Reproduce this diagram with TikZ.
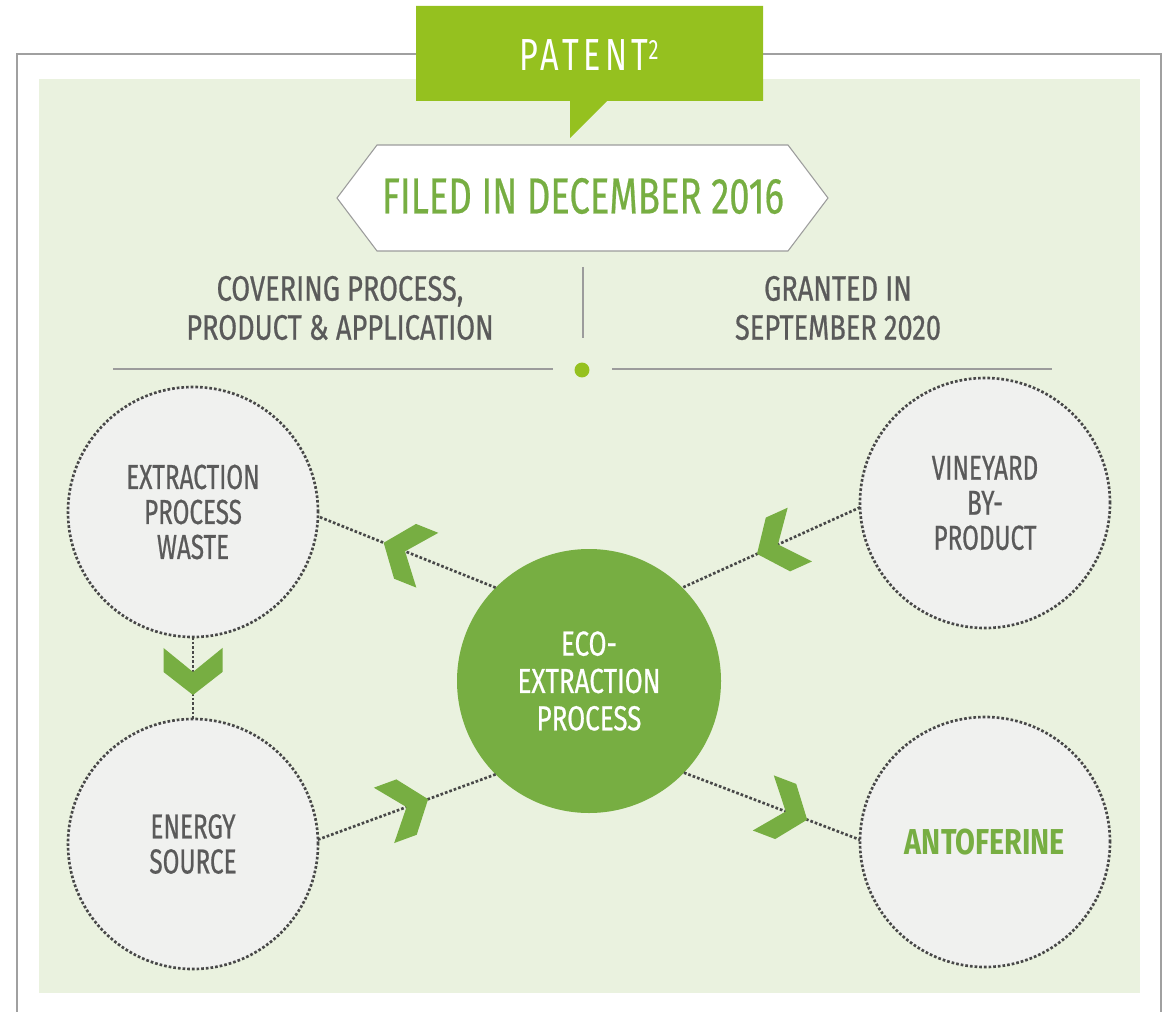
\documentclass[tikz,border=0pt]{standalone}
\usepackage{fontspec}
\setmainfont{Fira Sans}
\newfontfamily\osw[FakeStretch=0.72]{Fira Sans}
\newfontfamily\oswc[FakeStretch=0.70,FakeBold=0.6]{Fira Sans}
\newfontfamily\oswk[FakeStretch=0.75,FakeBold=0.6]{Fira Sans}
\newfontfamily\oswh[FakeStretch=0.77,FakeBold=0.6]{Fira Sans}
\newfontfamily\oswf[FakeStretch=0.72,FakeBold=0.4]{Fira Sans}
\newfontfamily\oswb[FakeStretch=0.80]{Fira Sans}
\usetikzlibrary{decorations.markings}
\definecolor{bggreen}{HTML}{EAF2DF}
\definecolor{lime}{HTML}{95C11F}
\definecolor{leaf}{HTML}{77AE42}
\definecolor{txtgray}{HTML}{5A5A5A}
\definecolor{framegray}{HTML}{A0A0A0}
\definecolor{linegray}{HTML}{9C9C9C}
\definecolor{circfill}{HTML}{F0F1EF}
\definecolor{dotgray}{HTML}{484848}
\begin{document}
\begin{tikzpicture}[x=0.75pt,y=-0.75pt,
  dotline/.style={draw=dotgray, line width=2pt, dash pattern=on 2pt off 1.5pt},
  bubble/.style={circle, dotline, fill=circfill, minimum size=187.5pt, inner sep=0pt, outer sep=0pt,
    align=center, text=txtgray, font=\oswc\fontsize{26pt}{26.25pt}\selectfont},
  core/.style={circle, fill=leaf, minimum size=198pt, inner sep=0pt, outer sep=0pt,
    align=center, text=white, font=\oswk\fontsize{26pt}{28pt}\selectfont},
  headtext/.style={align=center, text=txtgray, font=\oswh\fontsize{26.5pt}{29.25pt}\selectfont},
  chev/.style={postaction={decorate, decoration={markings, mark=at position #1 with {
    \fill[leaf] (0,0) -- (-23,29.5) -- (-47,29.5) -- (-23,0) -- (-47,-29.5) -- (-23,-29.5) -- cycle;}}}}
]
\useasboundingbox (0,0) rectangle (1166,1012);
% frame and background
\draw[framegray, line width=1.5pt] (16.5,1020) -- (16.5,54) -- (1161,54) -- (1161,1020);
\fill[bggreen] (39,79) rectangle (1140,993);
% banner
\fill[lime] (416,6) -- (763,6) -- (763,101) -- (607,101) -- (570,138) -- (570,101) -- (416,101) -- cycle;
\node[text=white, font=\osw\fontsize{33.7pt}{34pt}\selectfont\addfontfeature{LetterSpace=10}] (patent) at (589,55)
  {PATENT\raisebox{8pt}{\fontsize{21pt}{21pt}\selectfont 2}};
% hexagon
\draw[linegray, line width=0.8pt, fill=white] (337,198) -- (377,145) -- (788,145) -- (828,198) -- (788,251) -- (377,251) -- cycle;
\node[text=leaf, font=\oswf\fontsize{38pt}{38pt}\selectfont] (filed) at (583,196) {FILED IN DECEMBER 2016};
% headings
\node[headtext] (covering) at (340,308) {COVERING PROCESS,\\PRODUCT \& APPLICATION};
\node[headtext] (granted) at (838,308) {GRANTED IN\\SEPTEMBER 2020};
\draw[linegray, line width=1.2pt] (583,267) -- (583,338);
\draw[linegray, line width=1.2pt] (113,369) -- (553,369);
\draw[linegray, line width=1.2pt] (612,369) -- (1052,369);
\fill[lime] (582,370) circle (5.6pt);
% circles
\node[bubble] (waste) at (193,512) {EXTRACTION\\PROCESS\\WASTE};
\node[bubble] (energy) at (193,844) {ENERGY\\SOURCE};
\node[bubble] (vineyard) at (985,503) {VINEYARD\\BY-\\PRODUCT};
\node[bubble, text=leaf, font=\oswb\bfseries\fontsize{27pt}{27pt}\selectfont] (antoferine) at (985,842) {ANTOFERINE};
\node[core] (center) at (589,681) {ECO-\\EXTRACTION\\PROCESS};
% connectors
\draw[dotline, chev=0.63] (center.135.9) -- (waste.-2.7);
\draw[dotline, chev=0.707] (waste.south) -- (energy.north);
\draw[dotline, chev=0.58] (vineyard.182.3) -- (center.45.6);
\draw[dotline, chev=0.62] (energy.2.7) -- (center.225);
\draw[dotline, chev=0.70] (center.-44.4) -- (antoferine.179);
\end{tikzpicture}
\end{document}
